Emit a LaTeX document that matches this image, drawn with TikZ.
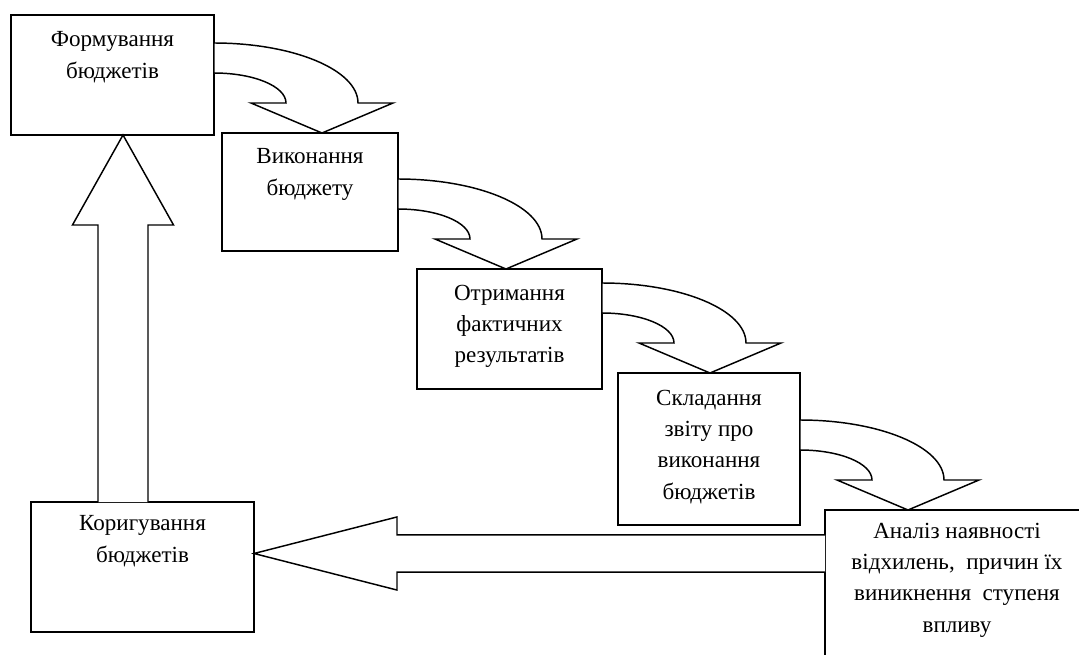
\documentclass[tikz,border=0pt]{standalone}
\usepackage{fontspec}
\setmainfont{Liberation Serif}
\usetikzlibrary{calc}
\tikzset{
  box/.style={draw, line width=1.1pt, rectangle, inner sep=0pt, outer sep=0pt, anchor=north west},
  blk/.style={draw, line width=1.1pt, fill=white, line join=miter},
  txt/.style={font=\fontsize{17.3}{23.5}\selectfont, align=center, inner sep=0pt, anchor=base},
}
\newcommand{\bx}[5]{\node[box, minimum width=#4*0.75pt, minimum height=#5*0.75pt] (#1) at (#2,#3) {};}
% curved block arrow from the east side of #1 down onto the top of #2
\newcommand{\bendarrow}[2]{%
  \draw[blk] let \p1=(#1.east), \p2=(#2.north) in
    (\x1,\y2+67.5pt) .. controls (\x1+59.6pt,\y2+67.5pt) and (\x1+108pt,\y2+47.3pt) .. (\x1+108pt,\y2+22.5pt)
    -- (\x1+134.25pt,\y2+22.5pt) -- (\x1+81pt,\y2) -- (\x1+27.75pt,\y2+22.5pt) -- (\x1+54pt,\y2+22.5pt)
    .. controls (\x1+54pt,\y2+35pt) and (\x1+29.9pt,\y2+45pt) .. (\x1,\y2+45pt) -- cycle;}
\begin{document}
\begin{tikzpicture}[x=0.75pt, y=-0.75pt]
\clip (0,0) rectangle (1079,654);
\fill[white] (0,0) rectangle (1079,654);
% boxes
\bx{b1}{11}{15}{203}{120}
\bx{b2}{222}{133}{176}{118}
\bx{b3}{417}{269}{185}{120}
\bx{b4}{618}{373}{182}{152}
\bx{kor}{31}{502}{223}{130}
\bx{b5}{825}{510}{264}{200}
% texts (anchor = baseline of the last line)
\node[txt] (t1) at ($(b1.north)+(0,63.3)$) {Формування\\бюджетів};
\node[txt] (t2) at ($(b2.north)+(0,62.3)$) {Виконання\\бюджету};
\node[txt] (t3) at ($(b3.north)+(0,93.7)$) {Отримання\\фактичних\\результатів};
\node[txt] (t4) at ($(b4.north)+(0,126)$) {Складання\\звіту про\\виконання\\бюджетів};
\node[txt] (tk) at ($(kor.north)+(0,60.3)$) {Коригування\\бюджетів};
\node[txt] (t5) at ($(b5.north)+(0,122)$) {Аналіз наявності\\відхилень,\enspace причин їх\\виникнення\enspace ступеня\\впливу};
% curved arrows
\bendarrow{b1}{b2}
\bendarrow{b2}{b3}
\bendarrow{b3}{b4}
\bendarrow{b4}{b5}
% upward block arrow
\coordinate (upbase) at ($(kor.north west)+(92,0)$);
\draw[blk] let \p1=(upbase), \p2=(b1.south) in
  (\x1-18.75pt,\y1) -- (\x1-18.75pt,\y2-67.5pt) -- (\x1-37.9pt,\y2-67.5pt) -- (\x1,\y2)
  -- (\x1+37.9pt,\y2-67.5pt) -- (\x1+18.75pt,\y2-67.5pt) -- (\x1+18.75pt,\y1);
% leftward block arrow
\coordinate (ltip) at ($(kor.north east)+(0,51.5)$);
\draw[blk] let \p1=(ltip), \p2=(b5.west) in
  (\x2,\y1+13.9pt) -- (\x1+107.25pt,\y1+13.9pt) -- (\x1+107.25pt,\y1+27.4pt) -- (\x1,\y1)
  -- (\x1+107.25pt,\y1-27.4pt) -- (\x1+107.25pt,\y1-13.9pt) -- (\x2,\y1-13.9pt);
\end{tikzpicture}
\end{document}
